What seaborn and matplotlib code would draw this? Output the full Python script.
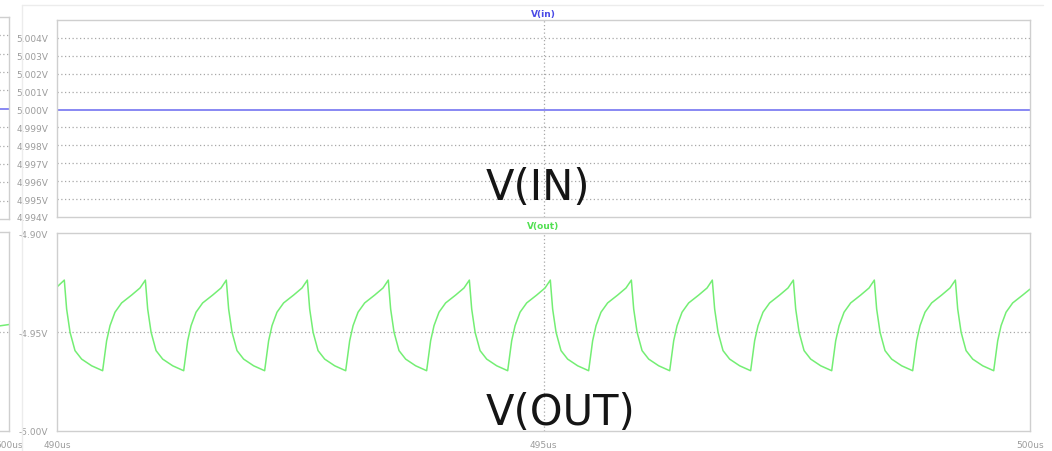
import matplotlib
matplotlib.use("Agg")
import matplotlib.pyplot as plt
import seaborn as sns
import pandas as pd
from matplotlib.lines import Line2D

# values (time in us, volts)
vin_time = [490.0, 500.0]
vin_volt = [5.0, 5.0]

out_time = [
    490.000,
    490.075, 490.099, 490.134, 490.185, 490.253, 490.356, 490.469, 490.510, 490.545, 490.596, 490.664, 490.767, 490.853,
    490.908, 490.932, 490.967, 491.018, 491.086, 491.189, 491.302, 491.343, 491.378, 491.429, 491.497, 491.600, 491.686,
    491.740, 491.764, 491.799, 491.850, 491.918, 492.021, 492.134, 492.175, 492.210, 492.261, 492.329, 492.432, 492.518,
    492.573, 492.597, 492.632, 492.683, 492.751, 492.854, 492.967, 493.008, 493.043, 493.094, 493.162, 493.265, 493.351,
    493.405, 493.429, 493.464, 493.515, 493.583, 493.686, 493.799, 493.840, 493.875, 493.926, 493.994, 494.097, 494.183,
    494.238, 494.262, 494.297, 494.348, 494.416, 494.519, 494.632, 494.673, 494.708, 494.759, 494.827, 494.930, 495.016,
    495.070, 495.094, 495.129, 495.180, 495.248, 495.351, 495.464, 495.505, 495.540, 495.591, 495.659, 495.762, 495.848,
    495.903, 495.927, 495.962, 496.013, 496.081, 496.184, 496.297, 496.338, 496.373, 496.424, 496.492, 496.595, 496.681,
    496.735, 496.759, 496.794, 496.845, 496.913, 497.016, 497.129, 497.170, 497.205, 497.256, 497.324, 497.427, 497.513,
    497.568, 497.592, 497.627, 497.678, 497.746, 497.849, 497.962, 498.003, 498.038, 498.089, 498.157, 498.260, 498.346,
    498.400, 498.424, 498.459, 498.510, 498.578, 498.681, 498.794, 498.835, 498.870, 498.921, 498.989, 499.092, 499.178,
    499.233, 499.257, 499.292, 499.343, 499.411, 499.514, 499.627, 499.668, 499.703, 499.754, 499.822, 499.925, 500.000,
]
out_volt = [
    -4.9269,
    -4.9234, -4.9381, -4.9499, -4.9592, -4.9635, -4.9669, -4.9694, -4.9542, -4.9465, -4.9397, -4.9350, -4.9310, -4.9274,
    -4.9234, -4.9381, -4.9499, -4.9592, -4.9635, -4.9669, -4.9694, -4.9542, -4.9465, -4.9397, -4.9350, -4.9310, -4.9274,
    -4.9234, -4.9381, -4.9499, -4.9592, -4.9635, -4.9669, -4.9694, -4.9542, -4.9465, -4.9397, -4.9350, -4.9310, -4.9274,
    -4.9234, -4.9381, -4.9499, -4.9592, -4.9635, -4.9669, -4.9694, -4.9542, -4.9465, -4.9397, -4.9350, -4.9310, -4.9274,
    -4.9234, -4.9381, -4.9499, -4.9592, -4.9635, -4.9669, -4.9694, -4.9542, -4.9465, -4.9397, -4.9350, -4.9310, -4.9274,
    -4.9234, -4.9381, -4.9499, -4.9592, -4.9635, -4.9669, -4.9694, -4.9542, -4.9465, -4.9397, -4.9350, -4.9310, -4.9274,
    -4.9234, -4.9381, -4.9499, -4.9592, -4.9635, -4.9669, -4.9694, -4.9542, -4.9465, -4.9397, -4.9350, -4.9310, -4.9274,
    -4.9234, -4.9381, -4.9499, -4.9592, -4.9635, -4.9669, -4.9694, -4.9542, -4.9465, -4.9397, -4.9350, -4.9310, -4.9274,
    -4.9234, -4.9381, -4.9499, -4.9592, -4.9635, -4.9669, -4.9694, -4.9542, -4.9465, -4.9397, -4.9350, -4.9310, -4.9274,
    -4.9234, -4.9381, -4.9499, -4.9592, -4.9635, -4.9669, -4.9694, -4.9542, -4.9465, -4.9397, -4.9350, -4.9310, -4.9274,
    -4.9234, -4.9381, -4.9499, -4.9592, -4.9635, -4.9669, -4.9694, -4.9542, -4.9465, -4.9397, -4.9350, -4.9310, -4.9274,
    -4.9234, -4.9381, -4.9499, -4.9592, -4.9635, -4.9669, -4.9694, -4.9542, -4.9465, -4.9397, -4.9350, -4.9310, -4.9280,
]

# the neighbouring pane cut off at the left edge
left_vin_time = [499.0, 500.0]
left_vin_volt = [5.0, 5.0]
left_out_time = [499.0, 499.5, 500.0]
left_out_volt = [-4.9500, -4.9490, -4.9465]

vin_ticks = [4.994, 4.995, 4.996, 4.997, 4.998, 4.999, 5.000, 5.001, 5.002, 5.003, 5.004]
vin_grid = [4.995, 4.996, 4.997, 4.998, 4.999, 5.001, 5.002, 5.003, 5.004]
out_ticks = [-5.00, -4.95, -4.90]
time_ticks = [490, 495, 500]
time_labels = ["490us", "495us", "500us"]

BLUE = "#7f7ff2"
GREEN = "#74ee74"
GRID = "#a8a8a8"
SPINE = "#cfcfcf"
TXT = "#9c9c9c"

sns.set_style("white")
plt.rcParams["font.family"] = ["DejaVu Sans"]

W, H = 1052, 452
fig = plt.figure(figsize=(W / 100, H / 100), dpi=100)


def box(x0, y0, x1, y1):
    # pixel box (top-left origin) -> figure rect
    return [x0 / W, 1 - y1 / H, (x1 - x0) / W, (y1 - y0) / H]


def style(ax):
    for s in ax.spines.values():
        s.set_color(SPINE)
        s.set_linewidth(1.0)
    ax.tick_params(axis="both", colors=SPINE, labelcolor=TXT, labelsize=6.5, length=5, width=0.8, pad=1.5)
    ax.set_xlabel("")
    ax.set_ylabel("")


dot = (0, (1, 2))

# upper pane: V(in)
ax1 = fig.add_axes(box(57, 21, 1030, 218))
sns.lineplot(x=vin_time, y=vin_volt, ax=ax1, color=BLUE, linewidth=1.3)
ax1.set_xlim(490, 500)
ax1.set_ylim(4.994, 5.005)
ax1.set_yticks(vin_ticks)
ax1.set_yticklabels([f"{v:.3f}V" for v in vin_ticks])
ax1.set_xticks([])
for v in vin_grid:
    ax1.axhline(v, color=GRID, linestyle=dot, linewidth=0.9, zorder=0)
ax1.axvline(495, color=GRID, linestyle=dot, linewidth=0.9, zorder=0)
style(ax1)

# lower pane: V(out)
ax2 = fig.add_axes(box(57, 234, 1030, 432))
sns.lineplot(x=out_time, y=out_volt, ax=ax2, color=GREEN, linewidth=1.1, sort=False)
ax2.set_xlim(490, 500)
ax2.set_ylim(-5.00, -4.8995)
ax2.set_yticks(out_ticks)
ax2.set_yticklabels([f"{v:.2f}V" for v in out_ticks])
ax2.set_xticks(time_ticks)
ax2.set_xticklabels(time_labels)
ax2.axhline(-4.95, color=GRID, linestyle=dot, linewidth=0.9, zorder=0)
ax2.axvline(495, color=GRID, linestyle=dot, linewidth=0.9, zorder=0)
style(ax2)

# partial panes at the left edge
ax3 = fig.add_axes(box(-60, 18, 9, 220))
sns.lineplot(x=left_vin_time, y=left_vin_volt, ax=ax3, color=BLUE, linewidth=1.3)
ax3.set_xlim(499.0, 500.0)
ax3.set_ylim(4.994, 5.005)
for v in vin_grid:
    ax3.axhline(v, color=GRID, linestyle=dot, linewidth=0.9, zorder=0)
ax3.set_xticks([])
ax3.set_yticks([])
style(ax3)

ax4 = fig.add_axes(box(-60, 233, 9, 432))
sns.lineplot(x=left_out_time, y=left_out_volt, ax=ax4, color=GREEN, linewidth=1.1)
ax4.set_xlim(499.0, 500.0)
ax4.set_ylim(-5.00, -4.90)
ax4.axhline(-4.95, color=GRID, linestyle=dot, linewidth=0.9, zorder=0)
ax4.set_xticks([500])
ax4.set_xticklabels(["500us"])
ax4.set_yticks([])
style(ax4)

# pane frame lines
fig.add_artist(Line2D([22 / W, 1043 / W], [1 - 6 / H, 1 - 6 / H], color="#ececec", linewidth=1.0))
fig.add_artist(Line2D([22 / W, 22 / W], [1 - 6 / H, 0], color="#ececec", linewidth=1.0))

# trace names
fig.text(543 / W, 1 - 14 / H, "V(in)", color="#4b4be6", fontsize=6.5, fontweight="bold", ha="center", va="center")
fig.text(543 / W, 1 - 227 / H, "V(out)", color="#52e052", fontsize=6.5, fontweight="bold", ha="center", va="center")

# big overlay labels
fig.text(486 / W, 1 - 188 / H, "V(IN)", color="#151515", fontsize=30, ha="left", va="center")
fig.text(486 / W, 1 - 413 / H, "V(OUT)", color="#151515", fontsize=30, ha="left", va="center")

fig.savefig("out.png", dpi=100)
